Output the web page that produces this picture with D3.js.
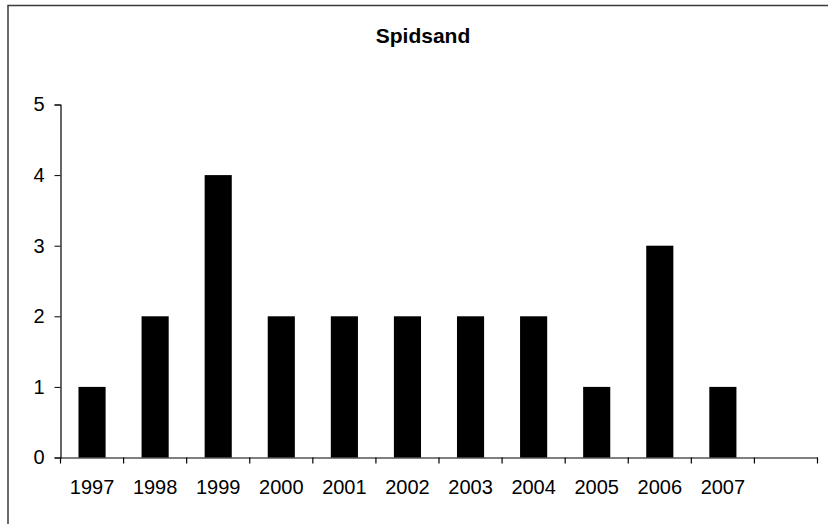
<!DOCTYPE html>
<html>
<head>
<meta charset="utf-8">
<script src="https://cdn.jsdelivr.net/npm/d3@7"></script>
<style>
  html, body { margin: 0; padding: 0; background: #fff; }
  svg { display: block; }
  text { font-family: "Liberation Sans", Arial, Helvetica, sans-serif; fill: #000; }
</style>
</head>
<body>
<svg id="chart" width="828" height="524"></svg>
<script>
const title = "Spidsand";
const categories = ["1997","1998","1999","2000","2001","2002","2003","2004","2005","2006","2007",""];
const values = [1, 2, 4, 2, 2, 2, 2, 2, 1, 3, 1, null];
const yTicks = [0, 1, 2, 3, 4, 5];

const svg = d3.select("#chart");

// outer frame (right/bottom edges lie outside the visible area)
svg.append("rect")
  .attr("x", 8).attr("y", 5.5)
  .attr("width", 840).attr("height", 540)
  .attr("fill", "none").attr("stroke", "#3a3a3a").attr("stroke-width", 1.5);

const x = d3.scaleBand()
  .domain(categories)
  .range([60.5, 817.5])
  .paddingInner(0.57)
  .paddingOuter(0.285);

const y = d3.scaleLinear().domain([0, 5]).range([457.5, 104.5]);

// bars
svg.append("g").selectAll("rect")
  .data(categories.map((c, i) => ({c, v: values[i]})).filter(d => d.v != null))
  .join("rect")
  .attr("x", d => x(d.c))
  .attr("width", x.bandwidth())
  .attr("y", d => y(d.v))
  .attr("height", d => y(0) - y(d.v))
  .attr("fill", "#000");

// y axis
const yAxis = svg.append("g")
  .attr("transform", "translate(60.5,0)")
  .call(d3.axisLeft(y).tickValues(yTicks).tickSize(6).tickPadding(10).tickFormat(d3.format("d")));
yAxis.select(".domain").attr("stroke", "#000").attr("stroke-width", 1.2);
yAxis.selectAll(".tick line").attr("stroke", "#000");
yAxis.selectAll("text").attr("font-size", 20).attr("fill", "#000")
  .attr("font-family", "'Liberation Sans', Arial, sans-serif");

// x axis baseline + labels
const xAxis = svg.append("g")
  .attr("transform", "translate(0,457.5)")
  .call(d3.axisBottom(x).tickSize(0).tickPadding(22));
xAxis.select(".domain").attr("stroke", "#000").attr("stroke-width", 1.2);
xAxis.selectAll("text").attr("font-size", 20).attr("fill", "#000")
  .attr("font-family", "'Liberation Sans', Arial, sans-serif");

// category boundary ticks
const step = x.step();
const boundaries = d3.range(categories.length + 1).map(i => x.range()[0] + i * step);
svg.append("g").selectAll("line")
  .data(boundaries)
  .join("line")
  .attr("x1", d => d).attr("x2", d => d)
  .attr("y1", 457.5).attr("y2", 463.5)
  .attr("stroke", "#000").attr("stroke-width", 1.2);

// title
svg.append("text")
  .attr("x", 423).attr("y", 43)
  .attr("text-anchor", "middle")
  .attr("font-size", 21).attr("font-weight", "bold")
  .text(title);
</script>
</body>
</html>
